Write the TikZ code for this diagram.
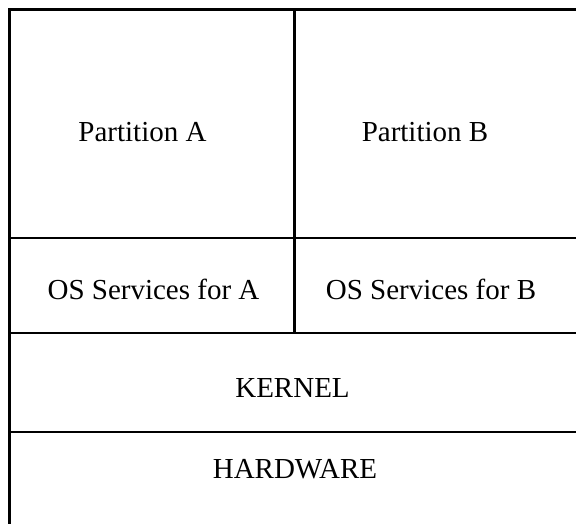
\documentclass[tikz,border=0pt]{standalone}
\usepackage{fontspec}
\setmainfont{Liberation Serif}
\begin{document}
\begin{tikzpicture}
		[x=1pt,y=-1pt,
		rule/.style={line width=2.2pt,black},
		layer/.style={anchor=base,inner sep=0pt,font=\fontsize{29}{34}\selectfont}]
		\useasboundingbox (0,0) rectangle (576,524);
		\clip (0,0) rectangle (576,524);
		% outline, open to the right and below
		\draw[rule] (9.5,540) -- (9.5,9.5) -- (590,9.5);
		\foreach \y in {238,333,432}
		{
			\draw[rule] (9.5,\y) -- (590,\y);
		}
		\draw[rule] (294.5,9.5) -- (294.5,333);
		\node[layer,name=partA] at (142.5,142) {Partition A};
		\node[layer,name=partB] at (425,142) {Partition B};
		\node[layer,name=osA] at (153.5,299) {OS Services for A};
		\node[layer,name=osB] at (431,299) {OS Services for B};
		\node[layer,name=kernel] at (292.5,397) {KERNEL};
		\node[layer,name=hw] at (295,478) {HARDWARE};
	\end{tikzpicture}
\end{document}
